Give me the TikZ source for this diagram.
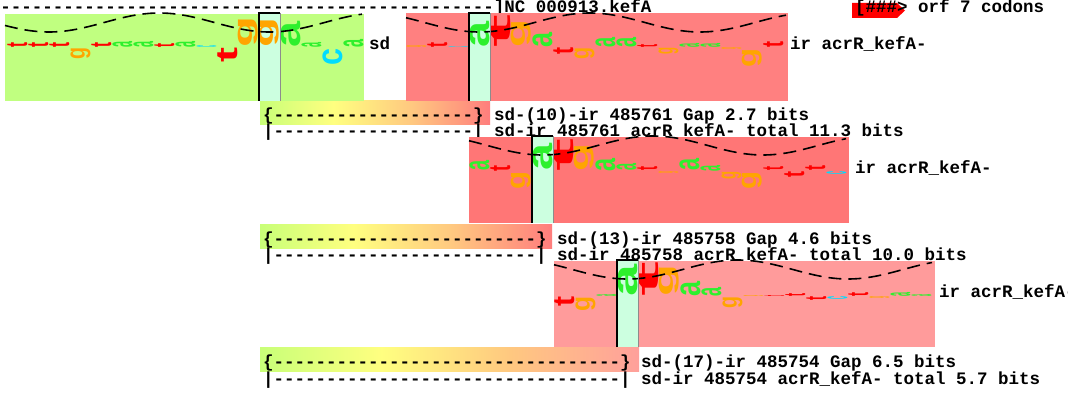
\documentclass[tikz,border=0pt]{standalone}
\usepackage{fontspec}
\usepackage{graphicx}
\setmonofont{Liberation Mono}
\newfontfamily\lfont{Liberation Sans}
\newcommand\tfont{\fontsize{17.5}{17.5}\selectfont\ttfamily\bfseries}
\ExplSyntaxOn
\cs_new:Npn \mydashes #1 { \prg_replicate:nn {#1} {-} }
\ExplSyntaxOff
\definecolor{cola}{RGB}{45,240,45}
\definecolor{colt}{RGB}{255,0,0}
\definecolor{colg}{RGB}{255,165,0}
\definecolor{colc}{RGB}{0,220,255}
\definecolor{logoA}{RGB}{192,255,128}
\definecolor{logoB}{RGB}{255,128,128}
\definecolor{logoC}{RGB}{255,118,118}
\definecolor{logoD}{RGB}{255,155,155}
\definecolor{boxc}{RGB}{204,255,224}
\definecolor{gG}{RGB}{200,255,120}
\definecolor{gY}{RGB}{255,255,128}
\definecolor{gO}{RGB}{255,200,128}
\definecolor{gRa}{RGB}{255,125,125}
\definecolor{gRc}{RGB}{255,160,155}
\pgfdeclarehorizontalshading{gapA}{100bp}{color(0bp)=(gG); color(25bp)=(gG); color(41bp)=(gY); color(58bp)=(gO); color(75bp)=(gRa); color(100bp)=(gRa)}
\pgfdeclarehorizontalshading{gapC}{100bp}{color(0bp)=(gG); color(25bp)=(gG); color(41bp)=(gY); color(58bp)=(gO); color(75bp)=(gRc); color(100bp)=(gRc)}
\newcommand\Lt[3]{%
  \pgfmathsetmacro\hv{abs(\ph)}%
  \ifdim\ph pt>0pt
    \node[ltr, anchor=south, text=col\pn] (#1\pk) at ({#2+21*(\pk)},#3) {\resizebox{20pt}{\hv pt}{\rotatebox{90}{\lfont\bfseries\pn}}};
  \else
    \node[ltr, anchor=north, text=col\pn] (#1\pk) at ({#2+21*(\pk)},#3) {\resizebox{20pt}{\hv pt}{\rotatebox{90}{\lfont\bfseries\pn}}};
  \fi}
\begin{document}
\begin{tikzpicture}[x=1pt,y=-1pt,
  txt/.style={anchor=base west, inner sep=0, outer sep=0, font=\tfont},
  ltr/.style={inner sep=0, outer sep=0},
  helix/.style={line width=1.6pt, dash pattern=on 13pt off 7pt},
  boxedge/.style={line width=1.5pt, black},
  boxside/.style={line width=0.8pt, black!45}]
\useasboundingbox (0,0) rectangle (1068,393);
\fill[white] (0,0) rectangle (1068,393);
% gap gradient bars
\shade[shading=gapA] (260,101) rectangle (490,125);
\shade[shading=gapA] (260,224) rectangle (552,248);
\shade[shading=gapC] (260,347) rectangle (639,371);
% header
\node[txt] (topline) at (0.5,13) {\mydashes{47}]NC\_000913.kefA};
\fill[red] (852,3) -- (897,3) -- (905,10.5) -- (897,18) -- (852,18) -- cycle;
\node[txt] (orf) at (855,13) {[\#\#\#> orf 7 codons};
% gap texts
\node[txt] (b1a) at (263,121) {\{\mydashes{19}\} sd-(10)-ir 485761 Gap 2.7 bits};
\node[txt] (b1b) at (263,137) {|\mydashes{19}| sd-ir 485761 acrR\_kefA- total 11.3 bits};
\node[txt] (b2a) at (263,244) {\{\mydashes{25}\} sd-(13)-ir 485758 Gap 4.6 bits};
\node[txt] (b2b) at (263,260) {|\mydashes{25}| sd-ir 485758 acrR\_kefA- total 10.0 bits};
\node[txt] (b3a) at (263,367) {\{\mydashes{33}\} sd-(17)-ir 485754 Gap 6.5 bits};
\node[txt] (b3b) at (263,384) {|\mydashes{33}| sd-ir 485754 acrR\_kefA- total 5.7 bits};
% ---- logo 1 (sd)
\fill[logoA] (5,14) rectangle (364,101);
\fill[boxc] (259,13) rectangle (280,101);
\foreach \pk/\pn/\ph in {-12/t/5,-11/t/5,-10/t/5,-9/g/-12,-8/t/5,-7/a/6,-6/a/6,-5/t/4,-4/a/6,-3/c/2,-2/t/-15,-1/g/31,0/g/30,1/a/26,2/a/5,3/c/-17,4/a/8}
  {\Lt{La}{269.5}{48}}
\draw[helix] plot[domain=5:362, samples=120] (\x,{22.5+9.5*cos(1.63265*(\x-269.5))});
\draw[boxside] (280,13) -- (280,101);
\draw[boxedge] (259,101) -- (259,13) -- (280,13);
\node[txt] (sd1) at (369,50) {sd};
% ---- logo 2
\fill[logoB] (406,13.5) rectangle (788,101);
\fill[boxc] (469,13) rectangle (490,101);
\foreach \pk/\pn/\ph in {-3/g/2,-2/t/5,-1/c/1,0/a/26,1/t/33,2/g/28,3/a/15,4/t/-7,5/g/-12,6/a/10,7/a/10,8/t/3,9/g/-7,10/a/4,11/a/4,12/g/-2,13/g/-19,14/t/6}
  {\Lt{Lb}{479.5}{48}}
\draw[helix] plot[domain=406:786, samples=120] (\x,{22.5+9.5*cos(1.63265*(\x-479.5))});
\draw[boxside] (490,13) -- (490,101);
\draw[boxedge] (469,101) -- (469,13) -- (490,13);
\node[txt] (ir2) at (790,50) {ir acrR\_kefA-};
% ---- logo 3
\fill[logoC] (469,137) rectangle (849,223);
\fill[boxc] (532,136) rectangle (553,223);
\foreach \pk/\pn/\ph in {-3/a/10,-2/t/6,-1/g/-18,0/a/27,1/t/33,2/g/28,3/a/13,4/a/7,5/t/4,6/g/-2,7/a/12,8/a/6,9/g/-8,10/g/-18,11/t/4,12/t/-6,13/t/5,14/c/-3}
  {\Lt{Lc}{542.5}{171}}
\draw[helix] plot[domain=469:846, samples=120] (\x,{145.5+9.5*cos(1.63265*(\x-542.5))});
\draw[boxside] (553,136) -- (553,223);
\draw[boxedge] (532,223) -- (532,136) -- (553,136);
\node[txt] (ir3) at (855,173) {ir acrR\_kefA-};
% ---- logo 4
\fill[logoD] (554,261) rectangle (935,347);
\fill[boxc] (617,260) rectangle (638,347);
\foreach \pk/\pn/\ph in {-3/t/-10,-2/g/-15,-1/a/2,0/a/32,1/t/35,2/g/32,3/a/15,4/a/9,5/g/-12,6/g/1,7/t/1,8/t/3,9/t/-4,10/c/-3,11/t/4,12/g/-2,13/a/4,14/a/2}
  {\Lt{Ld}{627.5}{296}}
\draw[helix] plot[domain=554:932, samples=120] (\x,{269.5+9.5*cos(1.63265*(\x-627.5))});
\draw[boxside] (638,260) -- (638,347);
\draw[boxedge] (617,347) -- (617,260) -- (638,260);
\node[txt] (ir4) at (939,297) {ir acrR\_kefA-};
\end{tikzpicture}
\end{document}
